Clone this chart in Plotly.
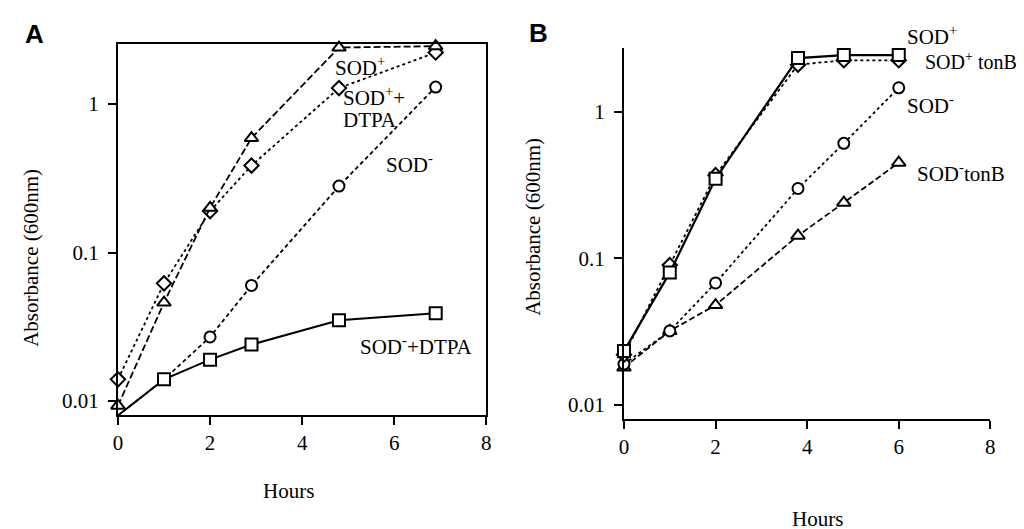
import plotly.graph_objects as go

# ---- Panel A data ----
a_hours = [0, 1, 2, 2.9, 4.8, 6.9]
a_sod_plus = [0.0093, 0.046, 0.20, 0.59, 2.40, 2.45]
a_sod_plus_dtpa = [0.014, 0.062, 0.19, 0.385, 1.28, 2.22]
a_sod_minus = [0.0080, 0.014, 0.027, 0.060, 0.28, 1.30]
a_sod_minus_dtpa = [0.0080, 0.014, 0.019, 0.024, 0.035, 0.039]

# ---- Panel B data ----
b_hours = [0, 1, 2, 3.8, 4.8, 6]
b_sod_plus = [0.022, 0.090, 0.37, 2.10, 2.25, 2.25]
b_sod_plus_tonb = [0.0233, 0.080, 0.35, 2.33, 2.44, 2.44]
b_sod_minus = [0.019, 0.032, 0.068, 0.30, 0.61, 1.46]
b_sod_minus_tonb = [0.018, 0.032, 0.048, 0.143, 0.24, 0.45]

x_ticks = [0, 2, 4, 6, 8]
y_ticks = [0.01, 0.1, 1]
y_ticktext = ["0.01", "0.1", "1"]

SERIF = "Liberation Serif, Times New Roman, Times, serif"
SANS = "Liberation Sans, Arial, Helvetica, sans-serif"
FS_TICK = 21
FS = 21

fig = go.Figure()


def add(x, y, sym, dash, width, size, xa, ya):
    fig.add_trace(go.Scatter(
        x=x, y=y, mode="lines+markers", xaxis=xa, yaxis=ya,
        line=dict(color="black", width=width, dash=dash),
        marker=dict(symbol=sym, size=size, color="white",
                    line=dict(color="black", width=2)),
        cliponaxis=False, showlegend=False, hoverinfo="skip"))


# Panel A
add(a_hours, a_sod_minus, "circle", "4px,3px", 1.8, 11, "x", "y")
add(a_hours, a_sod_plus_dtpa, "diamond", "dot", 1.8, 11, "x", "y")
add(a_hours, a_sod_plus, "triangle-up", "7px,3px", 1.8, 12, "x", "y")
add(a_hours, a_sod_minus_dtpa, "square", "solid", 2, 12, "x", "y")

# Panel B
add(b_hours, b_sod_minus_tonb, "triangle-up", "6px,3px", 1.8, 12, "x2", "y2")
add(b_hours, b_sod_minus, "circle", "3px,3px", 1.8, 11, "x2", "y2")
add(b_hours, b_sod_plus, "diamond", "dot", 1.8, 11, "x2", "y2")
add(b_hours, b_sod_plus_tonb, "square", "solid", 2.2, 12, "x2", "y2")

W, H = 1024, 529


def px(xp):
    return xp / W


def py(yp):
    return 1 - yp / H


axis_common = dict(showline=True, linecolor="black", linewidth=2,
                   ticks="outside", ticklen=8, tickwidth=2, tickcolor="black",
                   showgrid=False, zeroline=False,
                   tickfont=dict(family=SERIF, size=FS_TICK, color="black"))

fig.update_layout(
    width=W, height=H,
    margin=dict(l=0, r=0, t=0, b=0),
    paper_bgcolor="white", plot_bgcolor="white",
    font=dict(family=SERIF, size=FS, color="black"),
    xaxis=dict(domain=[px(106), px(478)], range=[0, 8], tickvals=x_ticks,
               anchor="y", mirror=True, **axis_common),
    yaxis=dict(domain=[py(407), py(36)], type="log", range=[-2.094, 0.404],
               tickvals=y_ticks, ticktext=y_ticktext, anchor="x", mirror=True,
               ticklabelstandoff=5, **axis_common),
    xaxis2=dict(domain=[px(617), px(987)], range=[0, 8], tickvals=x_ticks,
                anchor="y2", **axis_common),
    yaxis2=dict(domain=[py(411), py(40)], type="log", range=[-2.096, 0.436],
                tickvals=y_ticks, ticktext=y_ticktext, anchor="x2",
                ticklabelstandoff=5, **axis_common),
)

anns = [
    # panel letters
    dict(x=px(22), y=py(26), text="<b>A</b>", font=dict(family=SANS, size=26, color="black")),
    dict(x=px(531), y=py(25), text="<b>B</b>", font=dict(family=SANS, size=26, color="black")),
    # axis titles
    dict(x=px(18), y=py(250), text="Absorbance (600nm)", textangle=-90),
    dict(x=px(525), y=py(219), text="Absorbance (600nm)", textangle=-90),
    dict(x=px(278), y=py(483), text="Hours"),
    dict(x=px(812), y=py(511), text="Hours"),
    # panel A labels
    dict(x=px(323), y=py(58), text="SOD<sup>+</sup>", xanchor="left"),
    dict(x=px(331), y=py(88), text="SOD<sup>+</sup>+", xanchor="left"),
    dict(x=px(331), y=py(112), text="DTPA", xanchor="left"),
    dict(x=px(375), y=py(155), text="SOD<sup>-</sup>", xanchor="left"),
    dict(x=px(348), y=py(337), text="SOD<sup>-</sup>+DTPA", xanchor="left"),
    # panel B labels
    dict(x=px(901), y=py(27), text="SOD<sup>+</sup>", xanchor="left"),
    dict(x=px(1016), y=py(53), text="SOD<sup>+</sup> tonB", xanchor="right",
         font=dict(family=SERIF, size=20, color="black")),
    dict(x=px(901), y=py(97), text="SOD<sup>-</sup>", xanchor="left"),
    dict(x=px(911), y=py(164), text="SOD<sup>-</sup>tonB", xanchor="left"),
]
for a in anns:
    a.setdefault("font", dict(family=SERIF, size=FS, color="black"))
    a.setdefault("xanchor", "center")
    fig.add_annotation(xref="paper", yref="paper", showarrow=False,
                       yanchor="middle", **a)

fig.write_html("out.html")
